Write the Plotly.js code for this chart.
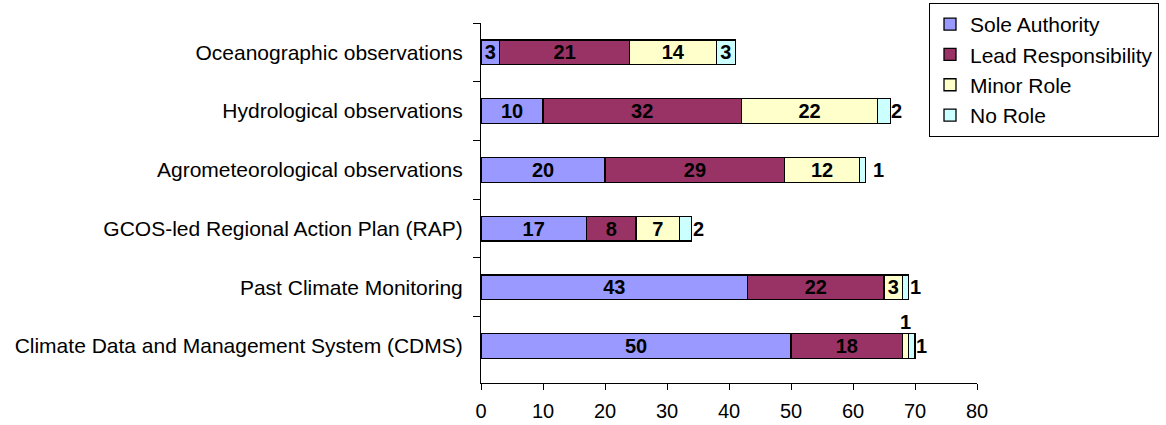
<!DOCTYPE html>
<html>
<head>
<meta charset="utf-8">
<script src="https://cdn.plot.ly/plotly-3.0.1.min.js"></script>
<style>html,body{margin:0;padding:0;background:#fff;}#chart{width:1166px;height:425px;}</style>
</head>
<body>
<div id="chart"></div>
<script>
var categories = [
  "Oceanographic observations",
  "Hydrological observations",
  "Agrometeorological observations",
  "GCOS-led Regional Action Plan (RAP)",
  "Past Climate Monitoring",
  "Climate Data and Management System (CDMS)"
];
var seriesNames = ["Sole Authority", "Lead Responsibility", "Minor Role", "No Role"];
var soleAuthority      = [3, 10, 20, 17, 43, 50];
var leadResponsibility = [21, 32, 29, 8, 22, 18];
var minorRole          = [14, 22, 12, 7, 3, 1];
var noRole             = [3, 2, 1, 2, 1, 1];
var xTicks = [0, 10, 20, 30, 40, 50, 60, 70, 80];

var seriesValues = [soleAuthority, leadResponsibility, minorRole, noRole];
var colors = ["#9999FF", "#993366", "#FFFFCC", "#CCFFFF"];
var FONT = "Arial, 'Liberation Sans', sans-serif";

var traces = seriesValues.map(function (vals, i) {
  return {
    type: "bar",
    orientation: "h",
    name: seriesNames[i],
    y: categories,
    x: vals,
    marker: { color: colors[i], line: { color: "#000", width: 1.3 } },
    text: vals.map(function (v) { return v >= 3 ? String(v) : ""; }),
    textposition: "inside",
    insidetextanchor: "middle",
    textangle: 0,
    constraintext: "none",
    textfont: { family: FONT, size: 20, color: "#000", weight: "bold" },
    hoverinfo: "x+name"
  };
});

// annotations for the small segments (values < 3)
var annotations = [];
categories.forEach(function (cat, c) {
  var cum = 0;
  var total = seriesValues.reduce(function (a, arr) { return a + arr[c]; }, 0);
  seriesValues.forEach(function (vals, s) {
    var v = vals[c];
    cum += v;
    if (v < 3) {
      var isLast = (cum === total);
      annotations.push({
        x: isLast ? total : cum - v / 2,
        y: cat,
        xref: "x", yref: "y",
        text: "<b>" + v + "</b>",
        showarrow: false,
        xanchor: isLast ? "left" : "center",
        yanchor: isLast ? "middle" : "bottom",
        xshift: isLast ? (v === 1 && total < 65 ? 6 : -1) : 0,
        yshift: isLast ? 0 : 11,
        font: { family: FONT, size: 20, color: "#000" }
      });
    }
  });
});

var layout = {
  width: 1166, height: 425,
  margin: { l: 481, r: 189, t: 23, b: 42, pad: 0, autoexpand: false },
  paper_bgcolor: "#fff", plot_bgcolor: "#fff",
  barmode: "stack",
  bargap: 0.58,
  font: { family: FONT, size: 21, color: "#000" },
  showlegend: true,
  legend: {
    xref: "container", yref: "container",
    x: 929 / 1166, y: 1 - 3 / 425, xanchor: "left", yanchor: "top",
    bordercolor: "#000", borderwidth: 1, bgcolor: "#fff",
    traceorder: "normal",
    font: { family: FONT, size: 21, color: "#000" },
    itemwidth: 30
  },
  xaxis: {
    range: [0, 80], tickvals: xTicks, ticktext: xTicks.map(String),
    showgrid: false, zeroline: false, showline: true, linecolor: "#000", linewidth: 1,
    ticks: "outside", ticklen: 6, tickcolor: "#000",
    ticklabelstandoff: 4,
    tickfont: { family: FONT, size: 20, color: "#000" }, fixedrange: true
  },
  yaxis: {
    type: "category", autorange: "reversed",
    showgrid: false, zeroline: false, showline: true, linecolor: "#000", linewidth: 1,
    ticks: "outside", ticklen: 7, tickcolor: "#000", tickson: "boundaries",
    ticklabelstandoff: 13,
    tickfont: { family: FONT, size: 21, color: "#000" }, fixedrange: true
  },
  annotations: annotations
};

Plotly.newPlot("chart", traces, layout, { displayModeBar: false, staticPlot: true });
</script>
</body>
</html>
